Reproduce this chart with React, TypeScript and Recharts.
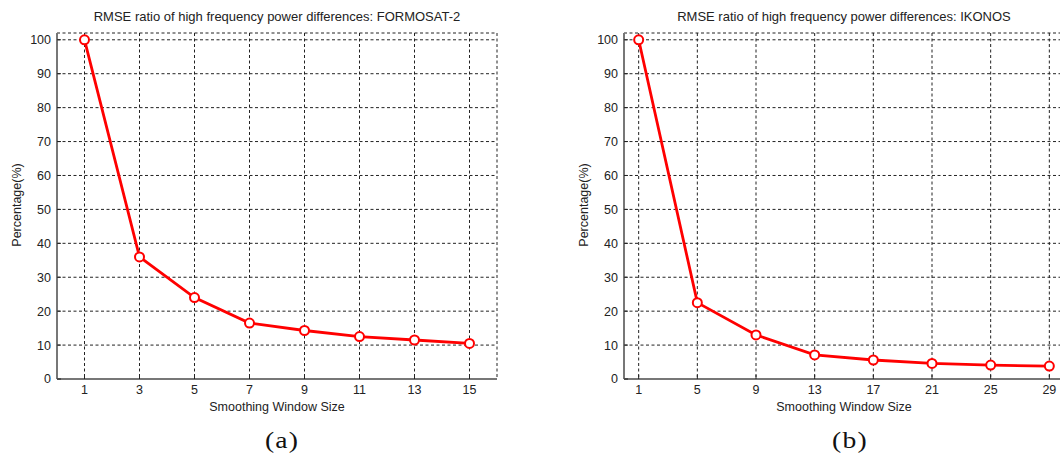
import { CartesianGrid, Line, LineChart, XAxis, YAxis } from "recharts";

const formosatWindow = [1, 3, 5, 7, 9, 11, 13, 15];
const formosatPct = [100, 36, 24, 16.5, 14.3, 12.5, 11.5, 10.5];
const ikonosWindow = [1, 5, 9, 13, 17, 21, 25, 29];
const ikonosPct = [100, 22.5, 13, 7.1, 5.6, 4.6, 4.1, 3.8];
const yTicks = [0, 10, 20, 30, 40, 50, 60, 70, 80, 90, 100];

const font = "Arial, 'Liberation Sans', sans-serif";
const textColor = "#222";
const tickGap = 6;
const markLen = 4;

// tick label plus a short inward tick mark (matlab style)
function BottomTick(props: any) {
  const { x, y, payload } = props;
  const axisY = y - tickGap;
  return (
    <g>
      <line x1={x} x2={x} y1={axisY} y2={axisY - markLen} stroke="#222" />
      <text x={x} y={y} dy="0.71em" textAnchor="middle" fontSize={12.5} fontFamily={font} fill={textColor}>
        {payload.value}
      </text>
    </g>
  );
}

function LeftTick(props: any) {
  const { x, y, payload } = props;
  const axisX = x + tickGap;
  return (
    <g>
      <line x1={axisX} x2={axisX + markLen} y1={y} y2={y} stroke="#222" />
      <text x={x} y={y} dy="0.355em" textAnchor="end" fontSize={12.5} fontFamily={font} fill={textColor}>
        {payload.value}
      </text>
    </g>
  );
}

function TopMark(props: any) {
  const { x, y } = props;
  return <line x1={x} x2={x} y1={y} y2={y + markLen} stroke="#222" />;
}

function RightMark(props: any) {
  const { x, y } = props;
  return <line x1={x} x2={x - markLen} y1={y} y2={y} stroke="#222" />;
}

type PanelProps = {
  left: number;
  width: number;
  title: string;
  tag: string;
  windows: number[];
  values: number[];
  xMax: number;
  plotLeft: number;
  plotRight: number;
  plotTop: number;
  tagX: number;
  yLabelX: number;
};

function Panel(p: PanelProps) {
  const data = p.windows.map((w, i) => ({ w, v: p.values[i] }));
  const width = p.width;
  const height = 455;
  const yAxisW = 40;
  const xAxisH = 30;
  const plotBottom = 379;
  const centerX = (p.plotLeft + p.plotRight) / 2 - p.left;
  return (
    <div style={{ position: "absolute", left: p.left, top: 0, width, height }}>
      <div
        style={{
          position: "absolute",
          left: centerX - 250,
          width: 500,
          top: 9,
          textAlign: "center",
          fontFamily: font,
          fontSize: 13,
          color: textColor,
        }}
      >
        {p.title}
      </div>
      <div
        style={{
          position: "absolute",
          left: centerX - 150,
          width: 300,
          top: 400,
          textAlign: "center",
          fontFamily: font,
          fontSize: 12.5,
          color: textColor,
        }}
      >
        Smoothing Window Size
      </div>
      <div
        style={{
          position: "absolute",
          left: p.tagX - p.left - 50,
          width: 100,
          top: 428,
          textAlign: "center",
          fontFamily: "'Liberation Serif', 'Times New Roman', serif",
          fontSize: 23,
          letterSpacing: 1,
          color: "#111",
          transform: "scaleX(1.2)",
        }}
      >
        {p.tag}
      </div>
      <div
        style={{
          position: "absolute",
          left: p.yLabelX - p.left - 100,
          top: 198,
          width: 200,
          textAlign: "center",
          fontFamily: font,
          fontSize: 12.5,
          color: textColor,
          transform: "rotate(-90deg)",
        }}
      >
        Percentage(%)
      </div>
      <LineChart
        width={width}
        height={height}
        data={data}
        margin={{
          top: p.plotTop,
          right: width - (p.plotRight - p.left),
          left: p.plotLeft - p.left - yAxisW,
          bottom: height - plotBottom - xAxisH,
        }}
        style={{ position: "absolute", left: 0, top: 0 }}
      >
        <CartesianGrid stroke="#222" strokeDasharray="3 2.5" strokeWidth={1} />
        <XAxis
          dataKey="w"
          type="number"
          domain={[0, p.xMax]}
          ticks={p.windows}
          height={xAxisH}
          tick={<BottomTick />}
          tickLine={false}
          tickSize={0}
          tickMargin={tickGap}
          axisLine={{ stroke: "#777", strokeWidth: 2 }}
        />
        <XAxis
          xAxisId="top"
          orientation="top"
          dataKey="w"
          type="number"
          domain={[0, p.xMax]}
          ticks={p.windows}
          height={0}
          tick={<TopMark />}
          tickLine={false}
          tickSize={0}
          tickMargin={0}
          axisLine={{ stroke: "#222", strokeWidth: 1 }}
        />
        <YAxis
          type="number"
          domain={[0, 102]}
          ticks={yTicks}
          width={yAxisW}
          tick={<LeftTick />}
          tickLine={false}
          tickSize={0}
          tickMargin={tickGap}
          axisLine={{ stroke: "#777", strokeWidth: 2 }}
        />
        <YAxis
          yAxisId="right"
          orientation="right"
          type="number"
          domain={[0, 102]}
          ticks={yTicks}
          width={0}
          tick={<RightMark />}
          tickLine={false}
          tickSize={0}
          tickMargin={0}
          axisLine={{ stroke: "#222", strokeWidth: 1 }}
        />
        <Line
          type="linear"
          dataKey="v"
          stroke="#ff0000"
          strokeWidth={2.8}
          dot={{ r: 4.5, stroke: "#ff0000", strokeWidth: 2, fill: "#fff" }}
          isAnimationActive={false}
        />
      </LineChart>
    </div>
  );
}

export default function App() {
  return (
    <div
      style={{
        position: "absolute",
        left: 0,
        top: 0,
        width: 1060,
        height: 455,
        background: "#fff",
        overflow: "hidden",
      }}
    >
      <Panel
        left={0}
        width={530}
        title="RMSE ratio of high frequency power differences: FORMOSAT-2"
        tag="(a)"
        windows={formosatWindow}
        values={formosatPct}
        xMax={16}
        plotLeft={57}
        plotRight={497}
        plotTop={33}
        tagX={282}
        yLabelX={17}
      />
      <Panel
        left={530}
        width={540}
        title="RMSE ratio of high frequency power differences: IKONOS"
        tag="(b)"
        windows={ikonosWindow}
        values={ikonosPct}
        xMax={30}
        plotLeft={624}
        plotRight={1064}
        plotTop={33}
        tagX={850}
        yLabelX={584}
      />
    </div>
  );
}
